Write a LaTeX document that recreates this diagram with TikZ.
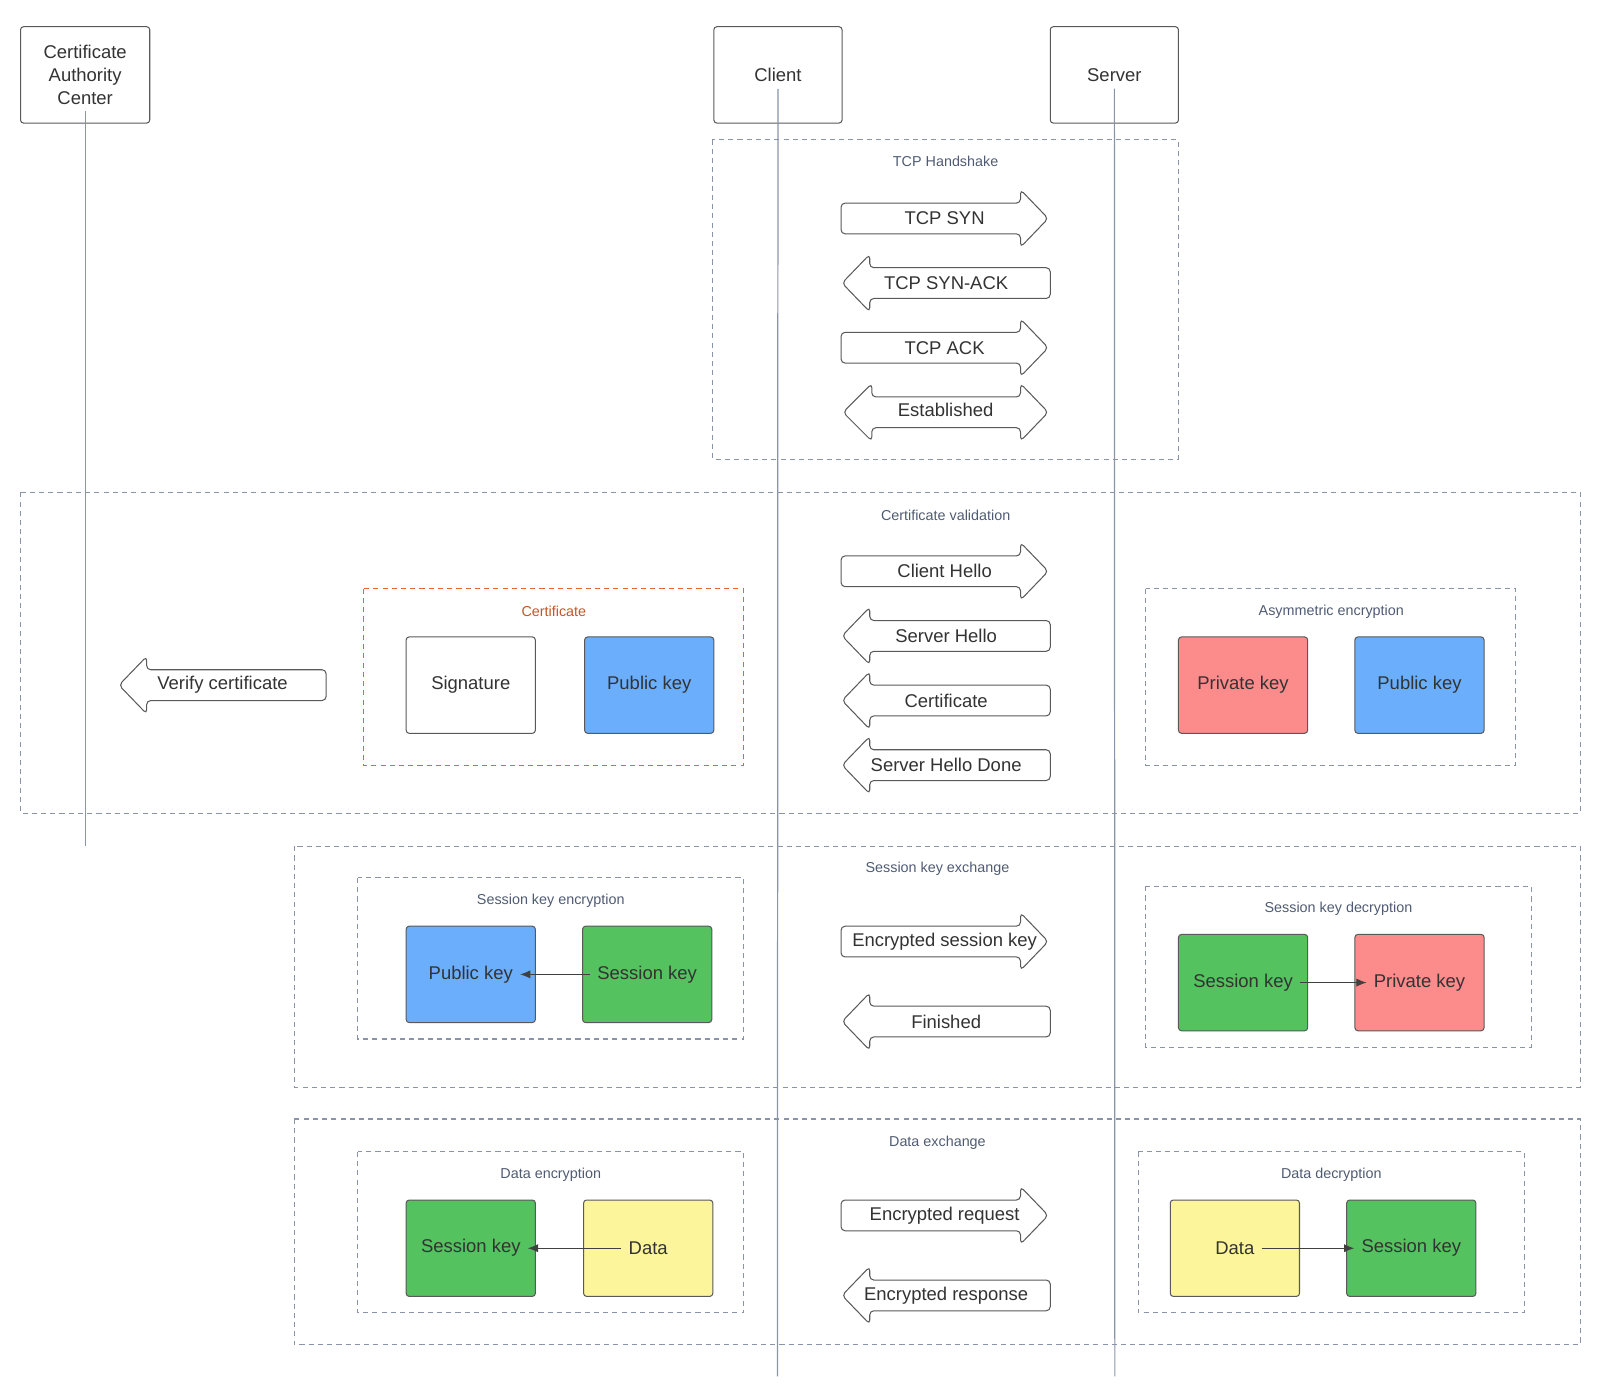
\documentclass[tikz,border=0pt]{standalone}
\usepackage{fontspec}
\setmainfont{Liberation Sans}
\usetikzlibrary{arrows.meta}
\definecolor{txt}{HTML}{333333}
\definecolor{grp}{HTML}{8A94A8}
\definecolor{gtxt}{HTML}{4F5B73}
\definecolor{bl}{HTML}{6AAEFC}
\definecolor{rd}{HTML}{FC8B8B}
\definecolor{gr}{HTML}{53C25F}
\definecolor{yl}{HTML}{FDF59C}
\definecolor{org}{HTML}{E8642C}
\tikzset{
 box/.style={draw=black!65,rounded corners=1.5pt,line width=0.5pt},
 grpbox/.style={draw=grp,dash pattern=on 2.5pt off 2pt,line width=0.5pt},
 gtitle/.style={text=gtxt,font=\fontsize{7}{8}\selectfont},
 lbl/.style={text=txt,font=\fontsize{9}{11}\selectfont,align=center},
 arr/.style={draw=black!65,fill=white,line width=0.5pt,rounded corners=2pt},
 life/.style={draw=grp,line width=0.6pt},
 link/.style={draw=black!75,line width=0.5pt,-{Latex[length=5pt,width=4pt]}}
}
% right arrow: name, x1, xbase, y, text
\newcommand\RA[5]{\draw[arr] (#2,#4-15)--(#3,#4-15)--(#3,#4-28)--(#3+27,#4)--(#3,#4+28)--(#3,#4+15)--(#2,#4+15)--cycle;
 \node[lbl] (#1) at ({(#2+#3+27)/2},#4) {#5};}
% left arrow: name, xbase, x2, y, text
\newcommand\LA[5]{\draw[arr] (#3,#4-15)--(#2,#4-15)--(#2,#4-28)--(#2-27,#4)--(#2,#4+28)--(#2,#4+15)--(#3,#4+15)--cycle;
 \node[lbl] (#1) at ({(#2-27+#3)/2},#4) {#5};}
\newcommand\BX[7]{\draw[box,fill=#6] (#2,#3) rectangle (#4,#5); \node[lbl] (#1) at ({(#2+#4)/2},{(#3+#5)/2}) {#7};}
\begin{document}
\begin{tikzpicture}[x=0.5pt,y=-0.5pt]
\useasboundingbox (0,0) rectangle (1560,1357);
% groups
\draw[grpbox] (695,136) rectangle (1149,448); \node[gtitle] (g1) at (922,157) {TCP Handshake};
\draw[grpbox] (20,480) rectangle (1541,793); \node[gtitle] (g2) at (922,502) {Certificate validation};
\draw[grpbox] (287,825) rectangle (1541,1060); \node[gtitle] (g3) at (914,847) {Session key exchange};
\draw[grpbox] (287,1091) rectangle (1541,1311); \node[gtitle] (g4) at (914,1114) {Data exchange};
\draw[draw=org,dash pattern=on 2.5pt off 2pt,line width=0.5pt] (354,574) rectangle (725,746); \node[gtitle,text=org!85!black] (g5) at (540,596) {Certificate};
\draw[grpbox] (1117,574) rectangle (1478,746); \node[gtitle] (g6) at (1298,596) {Asymmetric encryption};
\draw[grpbox] (349,856) rectangle (725,1013); \node[gtitle] (g7) at (537,878) {Session key encryption};
\draw[grpbox] (1117,864) rectangle (1493,1021); \node[gtitle] (g8) at (1305,886) {Session key decryption};
\draw[grpbox] (349,1123) rectangle (725,1280); \node[gtitle] (g9) at (537,1145) {Data encryption};
\draw[grpbox] (1110,1123) rectangle (1486,1280); \node[gtitle] (g10) at (1298,1145) {Data decryption};
% participants
\BX{ca}{20}{26}{146}{120}{white}{Certificate\\Authority\\Center}
\BX{cl}{696}{26}{821}{120}{white}{Client}
\BX{sv}{1024}{26}{1149}{120}{white}{Server}
\coordinate (caE) at (83,825); \coordinate (clE) at (758,1342); \coordinate (svE) at (1087,1342);
\draw[life] (ca.south) -- (caE); \draw[life] (cl.south) -- (clE); \draw[life] (sv.south) -- (svE);
% tcp
\RA{a1}{820}{995}{213}{TCP SYN}
\LA{a2}{848}{1024}{276}{TCP SYN-ACK}
\RA{a3}{820}{995}{339}{TCP ACK}
\draw[arr] (850,387)--(995,387)--(995,374)--(1022,402)--(995,430)--(995,417)--(850,417)--(850,430)--(822,402)--(850,374)--cycle;
\node[lbl] (a4) at (922,400) {Established};
% cert
\RA{b1}{820}{995}{557}{Client Hello}
\LA{b2}{848}{1024}{620}{Server Hello}
\LA{b3}{848}{1024}{683}{Certificate}
\LA{b4}{848}{1024}{746}{Server Hello Done}
\LA{b5}{143}{318}{668}{Verify certificate}
\BX{sig}{396}{621}{522}{715}{white}{Signature}
\BX{pk1}{570}{621}{696}{715}{bl}{Public key}
\BX{prk1}{1149}{621}{1275}{715}{rd}{Private key}
\BX{pk2}{1321}{621}{1447}{715}{bl}{Public key}
% session
\RA{c1}{820}{995}{918}{Encrypted session key}
\LA{c2}{848}{1024}{996}{Finished}
\BX{pk3}{396}{903}{522}{997}{bl}{Public key}
\BX{sk1}{568}{903}{694}{997}{gr}{Session key}
\draw[link] (sk1) -- (pk3);
\BX{sk2}{1149}{911}{1275}{1005}{gr}{Session key}
\BX{prk2}{1321}{911}{1447}{1005}{rd}{Private key}
\draw[link] (sk2) -- (prk2);
% data
\RA{d1}{820}{995}{1185}{Encrypted request}
\LA{d2}{848}{1024}{1263}{Encrypted response}
\BX{sk3}{396}{1170}{522}{1264}{gr}{Session key}
\BX{dt1}{569}{1170}{695}{1264}{yl}{Data}
\draw[link] (dt1) -- (sk3);
\BX{dt2}{1141}{1170}{1267}{1264}{yl}{Data}
\BX{sk4}{1313}{1170}{1439}{1264}{gr}{Session key}
\draw[link] (dt2) -- (sk4);
\end{tikzpicture}
\end{document}
